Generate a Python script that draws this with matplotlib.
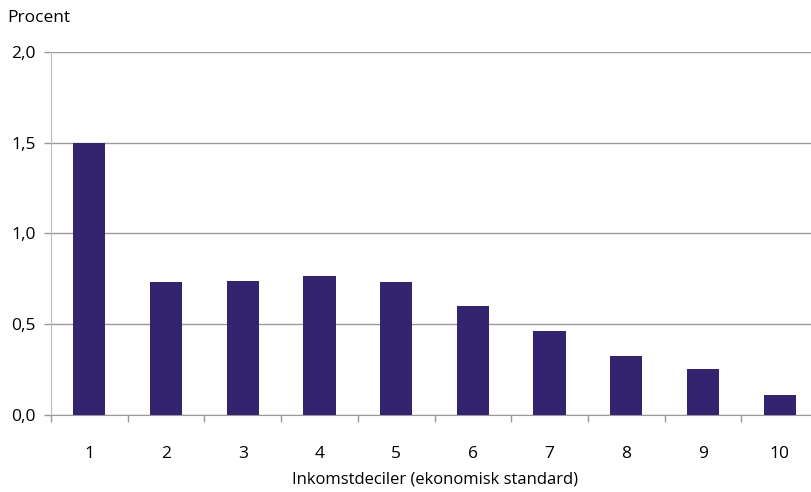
"""Bar chart: share per income decile (ekonomisk standard)."""

import matplotlib

matplotlib.use("Agg")
import matplotlib.pyplot as plt
import numpy as np

plt.rcParams["font.family"] = ["Open Sans", "DejaVu Sans"]
plt.rcParams["xtick.major.pad"] = 22.5
plt.rcParams["ytick.major.pad"] = 6

DECILES = ["1", "2", "3", "4", "5", "6", "7", "8", "9", "10"]
VALUES = [1.50, 0.73, 0.74, 0.765, 0.73, 0.60, 0.46, 0.325, 0.253, 0.11]
Y_TICKS = [0.0, 0.5, 1.0, 1.5, 2.0]
Y_TICK_LABELS = ["0,0", "0,5", "1,0", "1,5", "2,0"]

BAR_COLOR = "#34236f"
GRID_COLOR = "#9a9a9a"
FONT_SIZE = 12.5

fig = plt.figure(figsize=(8.12, 4.92), dpi=100)
# axes run a little past the right edge of the figure, as in the original
ax = fig.add_axes([51 / 812, 1 - 415 / 492, 767 / 812, (415 - 51.7) / 492])

x = np.arange(len(DECILES))
ax.bar(x, VALUES, width=0.42, color=BAR_COLOR, zorder=3)

ax.set_xlim(-0.5, len(DECILES) - 0.5)
ax.set_ylim(0, 2.0)
ax.set_yticks(Y_TICKS)
ax.set_yticklabels(Y_TICK_LABELS, fontsize=FONT_SIZE)
ax.yaxis.grid(True, color=GRID_COLOR, linewidth=1.0, zorder=0)
ax.tick_params(axis="y", length=5, color=GRID_COLOR, width=1.0)

# labels at the category centres, tick marks between the categories
ax.set_xticks(x)
ax.set_xticklabels(DECILES, fontsize=FONT_SIZE)
ax.tick_params(axis="x", which="major", length=0)
ax.set_xticks(np.arange(len(DECILES) + 1) - 0.5, minor=True)
ax.tick_params(axis="x", which="minor", length=5, color=GRID_COLOR, width=1.0)

for side in ("top", "right"):
    ax.spines[side].set_visible(False)
ax.spines["bottom"].set_color(GRID_COLOR)
ax.spines["left"].set_color("#bdbdbd")

ax.set_xlabel("Inkomstdeciler (ekonomisk standard)", fontsize=12, labelpad=6.5)
fig.text(7 / 812, 1 - 18 / 492, "Procent", fontsize=FONT_SIZE, va="center", ha="left")

fig.savefig("out.png", dpi=100)
